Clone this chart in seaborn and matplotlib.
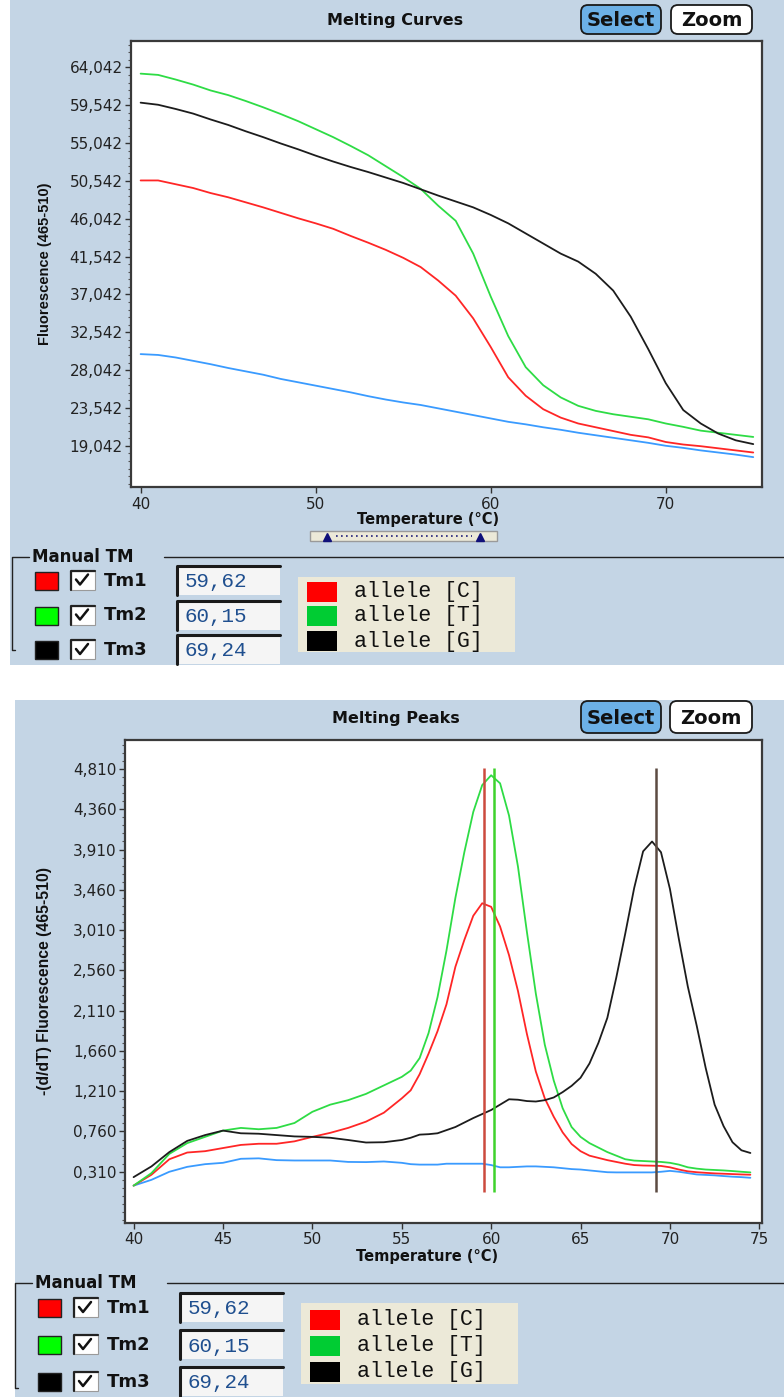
import numpy as np
import pandas as pd
import seaborn as sns
import matplotlib
matplotlib.use("Agg")
import matplotlib.pyplot as plt
from matplotlib.patches import Rectangle, FancyBboxPatch
from matplotlib.ticker import AutoMinorLocator, FuncFormatter

# Melting curves (fluorescence 465-510), read every 1 degC
curve_temps = list(range(40, 76))
curve_blank = [29.95, 29.85, 29.55, 29.15, 28.75, 28.3, 27.9, 27.5, 27.0, 26.6, 26.2, 25.8,
               25.4, 24.95, 24.55, 24.2, 23.9, 23.5, 23.1, 22.7, 22.3, 21.9, 21.6, 21.25,
               20.95, 20.6, 20.3, 20.0, 19.7, 19.4, 19.05, 18.8, 18.5, 18.25, 18.0, 17.7]
curve_c = [50.6, 50.6, 50.15, 49.7, 49.1, 48.6, 48.0, 47.4, 46.75, 46.1, 45.5, 44.85,
           44.0, 43.2, 42.35, 41.4, 40.3, 38.7, 36.9, 34.2, 30.8, 27.2, 25.0, 23.4,
           22.4, 21.7, 21.25, 20.8, 20.35, 20.05, 19.5, 19.2, 19.0, 18.75, 18.5, 18.25]
curve_t = [63.3, 63.15, 62.6, 62.0, 61.3, 60.75, 60.05, 59.3, 58.5, 57.65, 56.7, 55.75,
           54.7, 53.6, 52.3, 51.0, 49.6, 47.6, 45.8, 41.9, 36.8, 32.1, 28.4, 26.25,
           24.8, 23.8, 23.2, 22.8, 22.5, 22.2, 21.7, 21.3, 20.85, 20.6, 20.35, 20.1]
curve_g = [59.85, 59.6, 59.1, 58.55, 57.85, 57.2, 56.45, 55.75, 55.0, 54.3, 53.55, 52.85,
           52.2, 51.6, 50.95, 50.3, 49.55, 48.8, 48.1, 47.4, 46.5, 45.5, 44.3, 43.1,
           41.9, 40.95, 39.5, 37.5, 34.4, 30.55, 26.5, 23.3, 21.7, 20.5, 19.7, 19.25]
curve_yticks = [19.042, 23.542, 28.042, 32.542, 37.042, 41.542, 46.042, 50.542, 55.042, 59.542, 64.042]

# Melting peaks -(d/dT), 1 degC steps up to 55 then 0.5 degC
peak_temps = [40, 41, 42, 43, 44, 45, 46, 47, 48, 49, 50, 51, 52, 53, 54, 55,
              55.5, 56, 56.5, 57, 57.5, 58, 58.5, 59, 59.5, 60, 60.5, 61, 61.5, 62, 62.5,
              63, 63.5, 64, 64.5, 65, 65.5, 66, 66.5, 67, 67.5, 68, 68.5, 69, 69.5, 70,
              70.5, 71, 71.5, 72, 72.5, 73, 73.5, 74, 74.5]
peak_blank = [0.155, 0.22, 0.31, 0.365, 0.395, 0.41, 0.455, 0.46, 0.44, 0.436, 0.436, 0.436,
              0.42, 0.418, 0.425, 0.41,
              0.395, 0.39, 0.39, 0.39, 0.40, 0.40, 0.40, 0.40, 0.40, 0.385, 0.36, 0.36, 0.365,
              0.37, 0.37, 0.365, 0.36, 0.35, 0.34, 0.335, 0.325, 0.315, 0.305, 0.303, 0.303,
              0.303, 0.303, 0.303, 0.31, 0.32, 0.31, 0.295, 0.28, 0.275, 0.27, 0.262, 0.255,
              0.25, 0.243]
peak_c = [0.155, 0.277, 0.45, 0.525, 0.54, 0.575, 0.61, 0.623, 0.623, 0.65, 0.70, 0.745,
          0.80, 0.87, 0.97, 1.13,
          1.22, 1.40, 1.63, 1.88, 2.18, 2.60, 2.90, 3.17, 3.31, 3.27, 3.05, 2.73, 2.33,
          1.85, 1.43, 1.13, 0.925, 0.75, 0.62, 0.54, 0.49, 0.465, 0.44, 0.42, 0.40,
          0.385, 0.38, 0.378, 0.375, 0.36, 0.335, 0.315, 0.305, 0.298, 0.292, 0.288, 0.284,
          0.28, 0.277]
peak_t = [0.155, 0.295, 0.51, 0.63, 0.70, 0.77, 0.80, 0.785, 0.80, 0.855, 0.98, 1.06,
          1.11, 1.18, 1.275, 1.37,
          1.44, 1.58, 1.86, 2.26, 2.78, 3.37, 3.88, 4.33, 4.63, 4.74, 4.65, 4.29, 3.72,
          2.99, 2.3, 1.73, 1.33, 1.02, 0.81, 0.70, 0.63, 0.58, 0.53, 0.49, 0.45,
          0.435, 0.43, 0.425, 0.42, 0.41, 0.39, 0.36, 0.345, 0.335, 0.33, 0.325, 0.318,
          0.31, 0.303]
peak_g = [0.25, 0.37, 0.53, 0.655, 0.72, 0.77, 0.74, 0.735, 0.72, 0.705, 0.70, 0.69,
          0.665, 0.637, 0.64, 0.665,
          0.69, 0.725, 0.73, 0.74, 0.775, 0.81, 0.86, 0.91, 0.955, 1.0, 1.06, 1.12, 1.115,
          1.10, 1.095, 1.11, 1.14, 1.20, 1.27, 1.36, 1.52, 1.75, 2.03, 2.48, 2.97,
          3.48, 3.89, 4.0, 3.88, 3.47, 2.91, 2.38, 1.94, 1.47, 1.06, 0.82, 0.64,
          0.55, 0.52]
peak_yticks = [0.31, 0.76, 1.21, 1.66, 2.11, 2.56, 3.01, 3.46, 3.91, 4.36, 4.81]

# Manual Tm markers and allele legend
tm_names = ["Tm1", "Tm2", "Tm3"]
tm_values = [59.62, 60.15, 69.24]
tm_colors = ["#FF0000", "#00FF00", "#000000"]
tm_line_colors = ["#CC4A3E", "#3FD22C", "#5C4B42"]
allele_names = ["allele [C]", "allele [T]", "allele [G]"]
allele_colors = ["#FF0000", "#00CC33", "#000000"]

samples = ["blank", "C", "T", "G"]
palette = {"blank": "#3A9BFF", "C": "#FF2626", "T": "#2EDC45", "G": "#1C1C1C"}

curves = pd.DataFrame({"temp": curve_temps, "blank": curve_blank, "C": curve_c,
                       "T": curve_t, "G": curve_g}).melt("temp", var_name="sample", value_name="fluor")
peaks = pd.DataFrame({"temp": peak_temps, "blank": peak_blank, "C": peak_c,
                      "T": peak_t, "G": peak_g}).melt("temp", var_name="sample", value_name="fluor")

sns.set_style("ticks")
plt.rcParams["font.family"] = ["DejaVu Sans"]

W, H = 784, 1397
BG = "#C4D5E5"
fig = plt.figure(figsize=(W / 100, H / 100), dpi=100, facecolor="white")

# pixel-space layer for the software panel decoration
ui = fig.add_axes([0, 0, 1, 1], zorder=0)
ui.set_xlim(0, W)
ui.set_ylim(H, 0)
ui.axis("off")


def add_rect(x0, y0, x1, y1, **kw):
    ui.add_patch(Rectangle((x0, y0), x1 - x0, y1 - y0, **kw))


def button(x0, y0, x1, y1, text, fc):
    ui.add_patch(FancyBboxPatch((x0, y0), x1 - x0, y1 - y0, boxstyle="round,pad=0,rounding_size=7",
                                fc=fc, ec="#1A1A1A", lw=1.3))
    ui.text((x0 + x1) / 2, (y0 + y1) / 2 + 1, text, fontsize=14, fontweight="bold",
            ha="center", va="center", color="#111")


def checkbox(x0, y):
    add_rect(x0, y - 10, x0 + 24, y + 9, fc="white", ec="#9A9A9A", lw=0.8)
    ui.plot([x0, x0, x0 + 24], [y + 9, y - 10, y - 10], color="#222", lw=1.6)
    ui.plot([x0 + 5, x0 + 9, x0 + 17], [y - 1, y + 4, y - 6], color="#111", lw=1.8)


def manual_tm(dx, frame_y, frame_bottom, row_ys, leg_top, leg_bottom, leg_ys):
    ui.plot([29 + dx, 12 + dx, 12 + dx, 15 + dx], [frame_y, frame_y, frame_bottom, frame_bottom],
            color="#222", lw=1)
    ui.plot([164 + dx, W], [frame_y, frame_y], color="#222", lw=1)
    ui.text(32 + dx, frame_y, "Manual TM", fontsize=12, fontweight="bold", va="center", color="#111")
    for y, name, val, col in zip(row_ys, tm_names, tm_values, tm_colors):
        add_rect(35 + dx, y - 9, 58 + dx, y + 9, fc=col, ec="#222", lw=1)
        checkbox(71 + dx, y)
        ui.text(104 + dx, y, name, fontsize=13, fontweight="bold", va="center", color="#111")
        add_rect(177 + dx, y - 15, 280 + dx, y + 14, fc="#F5F5F5", ec="none")
        ui.plot([177 + dx, 177 + dx, 280 + dx], [y + 14, y - 15, y - 15], color="#1A1A1A", lw=2.2)
        ui.text(185 + dx, y + 1, f"{val:.2f}".replace(".", ","), fontsize=15,
                family="Liberation Mono", va="center", color="#1F4F8F")
    add_rect(298 + dx, leg_top, 515 + dx, leg_bottom, fc="#ECE9D8", ec="none")
    for y, name, col in zip(leg_ys, allele_names, allele_colors):
        add_rect(307 + dx, y - 10, 337 + dx, y + 10, fc=col, ec="none")
        ui.text(354 + dx, y, name, fontsize=15.5, family="Liberation Mono", va="center", color="#111")


# panels
add_rect(10, 0, W, 665, fc=BG, ec="none")
add_rect(15, 700, W, H, fc=BG, ec="none")
ui.text(395, 21, "Melting Curves", fontsize=11.5, fontweight="bold", ha="center", va="center", color="#111")
ui.text(396, 719, "Melting Peaks", fontsize=11.5, fontweight="bold", ha="center", va="center", color="#111")
button(581, 5, 661, 34, "Select", "#6CB0E6")
button(671, 5, 752, 34, "Zoom", "white")
button(581, 701, 661, 733, "Select", "#6CB0E6")
button(670, 701, 752, 733, "Zoom", "white")

# scroll widget under the curves panel
add_rect(310, 531, 497, 541, fc="#ECE9D8", ec="#9A9A9A", lw=1)
ui.plot([336, 472], [536, 536], color="#20207A", lw=1.2, ls=(0, (1, 2)))
ui.plot([327, 480], [536.5, 536.5], ls="none", marker="^", ms=6, color="#10107A")

manual_tm(0, 557, 650, [580.5, 615.5, 650], 577, 652, [592, 616, 641])
manual_tm(3, 1283, 1388, [1308, 1345, 1382], 1303, 1384, [1320, 1346, 1372])

ax1 = fig.add_axes([131 / W, 1 - 487 / H, 631 / W, 446 / H], zorder=2)
ax2 = fig.add_axes([125 / W, 1 - 1222.7 / H, 637 / W, 482.7 / H], zorder=2)

sns.lineplot(data=curves, x="temp", y="fluor", hue="sample", hue_order=samples, palette=palette,
             estimator=None, legend=False, linewidth=1.3, ax=ax1)
sns.lineplot(data=peaks, x="temp", y="fluor", hue="sample", hue_order=samples, palette=palette,
             estimator=None, legend=False, linewidth=1.3, ax=ax2)
ax2.vlines(tm_values, 0.08, 4.82, colors=tm_line_colors, linewidth=1.8, zorder=3)

comma3 = FuncFormatter(lambda v, p: f"{v:.3f}".replace(".", ","))
for ax in (ax1, ax2):
    ax.set_facecolor("white")
    for sp in ax.spines.values():
        sp.set_color("#3A3A3A")
        sp.set_linewidth(1.6)
    ax.tick_params(which="major", direction="out", length=4, width=1, color="#333",
                   labelsize=11, labelcolor="#222", pad=2)
    ax.tick_params(axis="x", pad=3)
    ax.tick_params(which="minor", direction="out", length=2.3, width=0.8, color="#555")
    ax.yaxis.set_major_formatter(comma3)
    ax.yaxis.set_minor_locator(AutoMinorLocator(5))

ax1.set_xlim(39.45, 75.5)
ax1.set_ylim(14.148, 67.181)
ax1.set_xticks([40, 50, 60, 70])
ax1.set_yticks(curve_yticks)
ax1.yaxis.set_minor_locator(AutoMinorLocator(5))
ax1.set_xlabel("Temperature (°C)", fontsize=10.5, fontweight="bold", va="center", color="#111")
ax1.xaxis.set_label_coords(0.47, -0.072)
ax1.set_ylabel("Fluorescence (465-510)", fontsize=10.5, fontweight="bold", family="Liberation Sans",
               va="center", color="#111")
ax1.yaxis.set_label_coords((45 - 131) / 631, 0.5)

ax2.set_xlim(39.52, 75.15)
ax2.set_ylim(-0.259, 5.134)
ax2.set_xticks([40, 45, 50, 55, 60, 65, 70, 75])
ax2.set_yticks(peak_yticks)
ax2.yaxis.set_minor_locator(AutoMinorLocator(5))
ax2.set_xlabel("Temperature (°C)", fontsize=10.5, fontweight="bold", va="center", color="#111")
ax2.xaxis.set_label_coords(0.474, -0.07)
ax2.set_ylabel("-(d/dT) Fluorescence (465-510)", fontsize=11.3, fontweight="bold",
               family="Liberation Sans", va="center", color="#111")
ax2.yaxis.set_label_coords((45 - 125) / 637, 0.5)

fig.savefig("out.png", dpi=100, facecolor="white")
